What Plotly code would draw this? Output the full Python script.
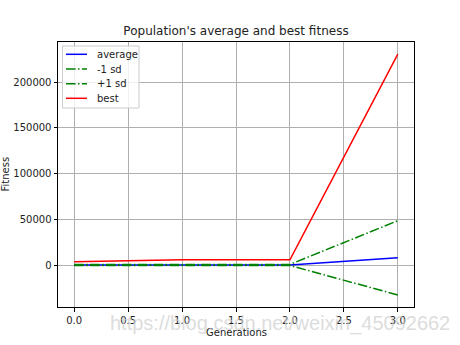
import plotly.graph_objects as go

generations = [0, 1, 2, 3]
average = [300, 400, 400, 8200]
minus_sd = [-300, -200, -200, -32300]
plus_sd = [900, 1000, 1000, 48700]
best = [3800, 6000, 6000, 230500]

series_names = ["average", "-1 sd", "+1 sd", "best"]
series_colors = ["blue", "green", "green", "red"]
x_ticks = [0.0, 0.5, 1.0, 1.5, 2.0, 2.5, 3.0]
y_ticks = [0, 50000, 100000, 150000, 200000]

W, H = 460, 345
L, R, T, B = 58, 46, 42, 38
PW, PH = W - L - R, H - T - B

dd = "9.6px,2.4px,1.5px,2.4px"
dashes = ["solid", dd, dd, "solid"]
fig = go.Figure()
for name, ys, col, dsh in zip(series_names, [average, minus_sd, plus_sd, best], series_colors, dashes):
    fig.add_trace(go.Scatter(x=generations, y=ys, mode="lines", name=name,
                             line=dict(color=col, width=1.5, dash=dsh), showlegend=False))

ymin = min(minus_sd); ymax = max(best); pad = (ymax - ymin) * 0.05

def px(x):
    return (x - L) / PW

def py(y):
    return 1 - (y - T) / PH

shapes = []
annotations = []
# custom legend box
shapes.append(dict(type="rect", xref="paper", yref="paper", x0=px(62.5), x1=px(139), y0=py(108), y1=py(46),
                   line=dict(color="#cccccc", width=1), fillcolor="rgba(255,255,255,0.8)", layer="above"))
row_y = [54.3, 69, 83.7, 98.3]
for name, col, dsh, yy in zip(series_names, series_colors, dashes, row_y):
    shapes.append(dict(type="line", xref="paper", yref="paper", x0=px(66), x1=px(87), y0=py(yy), y1=py(yy),
                       line=dict(color=col, width=1.5, dash=dsh), layer="above"))
    annotations.append(dict(text=name, xref="paper", yref="paper", x=px(94.5), y=py(yy),
                            xanchor="left", yanchor="middle", showarrow=False,
                            font=dict(size=10, color="#222")))

annotations.append(dict(text="Generations", xref="paper", yref="paper", x=0.5, y=0, yshift=-25,
                        xanchor="center", yanchor="middle", showarrow=False, font=dict(size=10, color="#222")))
annotations.append(dict(text="Fitness", xref="paper", yref="paper", x=0, xshift=-53, y=0.5,
                        xanchor="center", yanchor="middle", textangle=-90, showarrow=False,
                        font=dict(size=10, color="#222")))
annotations.append(dict(text="https://blog.csdn.net/weixin_45092662", xref="paper", yref="paper",
                        x=px(452), y=py(323), xanchor="right", yanchor="middle", showarrow=False,
                        font=dict(family="Liberation Sans", size=20, color="rgba(205,205,205,0.7)")))

fig.update_layout(
    width=W, height=H,
    margin=dict(l=L, r=R, t=T, b=B),
    paper_bgcolor="white", plot_bgcolor="white",
    font=dict(family="DejaVu Sans", size=10, color="#222"),
    title=dict(text="Population's average and best fitness", x=(L + PW / 2) / W, xanchor="center",
               y=1 - 31 / H, yanchor="middle", font=dict(size=12, color="#222")),
    xaxis=dict(range=[-0.15, 3.15], tickvals=x_ticks, ticktext=[f"{v:.1f}" for v in x_ticks],
               showgrid=True, gridcolor="#b0b0b0", gridwidth=0.8, zeroline=False,
               showline=True, linecolor="black", linewidth=1, mirror=True,
               ticks="outside", ticklen=3.5, tickcolor="black", automargin=False),
    yaxis=dict(range=[ymin - pad, ymax + pad], tickvals=y_ticks, ticktext=[str(v) for v in y_ticks],
               showgrid=True, gridcolor="#b0b0b0", gridwidth=0.8, zeroline=False,
               showline=True, linecolor="black", linewidth=1, mirror=True,
               ticks="outside", ticklen=3.5, tickcolor="black", automargin=False),
    shapes=shapes,
    annotations=annotations,
    showlegend=False,
)
fig.write_html("out.html")
